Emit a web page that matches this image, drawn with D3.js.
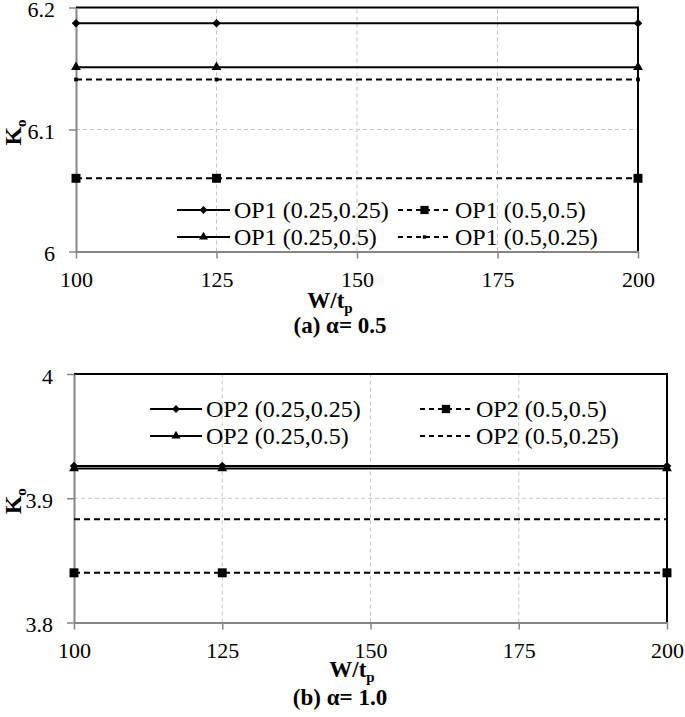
<!DOCTYPE html>
<html>
<head>
<meta charset="utf-8">
<script src="https://cdn.jsdelivr.net/npm/d3@7"></script>
<style>
  body { margin: 0; background: #fff; }
  svg { display: block; }
</style>
</head>
<body>
<div id="chart"></div>
<script>
// x values (W/tp) where points were computed
const xVals = [100, 125, 200];
const xTicks = [100, 125, 150, 175, 200];

// (a) alpha = 0.5
const yTicksA = [6, 6.1, 6.2];
const op1_025_025 = [6.187, 6.187, 6.187];
const op1_05_05 = [6.06, 6.06, 6.06];
const op1_025_05 = [6.151, 6.151, 6.151];
const op1_05_025 = [6.141, 6.141, 6.141];
const namesA = ['OP1 (0.25,0.25)', 'OP1 (0.5,0.5)', 'OP1 (0.25,0.5)', 'OP1 (0.5,0.25)'];

// (b) alpha = 1.0
const yTicksB = [3.8, 3.9, 4];
const op2_025_025 = [3.926, 3.926, 3.926];
const op2_05_05 = [3.84, 3.84, 3.84];
const op2_025_05 = [3.924, 3.924, 3.924];
const op2_05_025 = [3.883, 3.883, 3.883];
const namesB = ['OP2 (0.25,0.25)', 'OP2 (0.5,0.5)', 'OP2 (0.25,0.5)', 'OP2 (0.5,0.25)'];

const width = 685;
const height = 717;
const FONT = "'Liberation Serif', 'Times New Roman', serif";
const GREY = '#868686';

const svg = d3
  .select('#chart')
  .append('svg')
  .attr('width', width)
  .attr('height', height)
  .attr('viewBox', [0, 0, width, height]);

function marker(sel, type, scale) {
  const k = scale || 1;
  if (type === 'diamond') {
    sel.append('path')
      .attr('d', d3.symbol(d3.symbolSquare, 36 * k)())
      .attr('transform', 'rotate(45)')
      .attr('fill', '#000');
  } else if (type === 'triangle') {
    sel.append('path')
      .attr('d', d3.symbol(d3.symbolTriangle, 42 * k)())
      .attr('fill', '#000');
  } else if (type === 'square') {
    sel.append('path')
      .attr('d', d3.symbol(d3.symbolSquare, 80 * k)())
      .attr('fill', '#000');
  } else if (type === 'dot') {
    sel.append('path')
      .attr('d', d3.symbol(d3.symbolSquare, 14 * k)())
      .attr('fill', '#000');
  }
}

function drawPanel(p) {
  const g = svg.append('g');
  const x = d3.scaleLinear().domain([100, 200]).range(p.xRange);
  const y = d3.scaleLinear().domain([p.yTicks[0], p.yTicks[2]]).range(p.yRange);

  // grid
  g.selectAll('.vgrid')
    .data(xTicks.slice(1, -1))
    .enter()
    .append('line')
    .attr('x1', (d) => x(d))
    .attr('x2', (d) => x(d))
    .attr('y1', y.range()[0])
    .attr('y2', y.range()[1])
    .attr('stroke', '#c4c4c4')
    .attr('stroke-dasharray', '4,3');
  g.append('line')
    .attr('x1', x.range()[0])
    .attr('x2', x.range()[1])
    .attr('y1', y(p.yTicks[1]))
    .attr('y2', y(p.yTicks[1]))
    .attr('stroke', '#c4c4c4')
    .attr('stroke-dasharray', '4,3');

  // plot border top + right
  g.append('path')
    .attr('d', `M${x.range()[0]},${y.range()[1]}H${x.range()[1]}V${y.range()[0]}`)
    .attr('fill', 'none')
    .attr('stroke', '#000')
    .attr('stroke-width', 2);

  const xAxis = g.append('g')
    .attr('transform', `translate(0,${y.range()[0]})`)
    .call(d3.axisBottom(x).tickValues(xTicks).tickSize(7).tickSizeOuter(0).tickPadding(13).tickFormat(d3.format('d')));
  const yAxis = g.append('g')
    .attr('transform', `translate(${x.range()[0]},0)`)
    .call(d3.axisLeft(y).tickValues(p.yTicks).tickSize(7).tickSizeOuter(0).tickPadding(14).tickFormat(d3.format('~g')));
  yAxis.selectAll('.tick text').attr('dy', '0.42em');

  [xAxis, yAxis].forEach((a) => {
    a.attr('font-family', FONT).attr('font-size', 22);
    a.select('.domain').attr('stroke', GREY).attr('stroke-width', 2);
    a.selectAll('.tick line').attr('stroke', GREY).attr('stroke-width', 1.5);
    a.selectAll('.tick text').attr('fill', '#000');
  });

  // series
  const line = d3.line().x((d) => x(d[0])).y((d) => y(d[1]));
  p.series.forEach((s) => {
    const pts = xVals.map((v, i) => [v, s.values[i]]);
    g.append('path')
      .attr('d', line(pts))
      .attr('fill', 'none')
      .attr('stroke', '#000')
      .attr('stroke-width', 2)
      .attr('stroke-dasharray', s.dash ? '6,4' : null);
    if (s.marker !== 'none') {
      pts.forEach((pt) => {
        const m = g.append('g').attr('transform', `translate(${x(pt[0])},${y(pt[1])})`);
        marker(m, s.marker, 1);
      });
    }
  });

  // legend
  const leg = g.append('g').attr('font-family', FONT).attr('font-size', 24);
  p.series.forEach((s, i) => {
    const col = i % 2;
    const row = Math.floor(i / 2);
    const lx = p.legCols[col];
    const ly = p.legRows[row];
    leg.append('line')
      .attr('x1', lx)
      .attr('x2', lx + p.legLine)
      .attr('y1', ly)
      .attr('y2', ly)
      .attr('stroke', '#000')
      .attr('stroke-width', 2)
      .attr('stroke-dasharray', s.dash ? '5,4' : null);
    if (s.marker !== 'none') {
      const m = leg.append('g').attr('transform', `translate(${lx + p.legLine / 2},${ly})`);
      marker(m, s.marker, 0.85);
    }
    leg.append('text')
      .attr('x', lx + p.legLine + 4)
      .attr('y', ly)
      .attr('dy', '0.33em')
      .text(s.name);
  });

  // y title
  const yt = g.append('text')
    .attr('transform', `translate(21,${(y.range()[0] + y.range()[1]) / 2 + 3}) rotate(-90)`)
    .attr('text-anchor', 'middle')
    .attr('font-family', FONT)
    .attr('font-weight', 'bold')
    .attr('font-size', 24);
  yt.append('tspan').text('K');
  yt.append('tspan').attr('font-size', 15).attr('dy', '0.3em').text('o');

  // x title
  const xt = g.append('text')
    .attr('x', p.xTitleX)
    .attr('y', p.xTitleY)
    .attr('text-anchor', 'middle')
    .attr('font-family', FONT)
    .attr('font-weight', 'bold')
    .attr('font-size', 23);
  xt.append('tspan').text('W/t');
  xt.append('tspan').attr('font-size', 15).attr('dy', '0.3em').text('p');

  g.append('text')
    .attr('x', 340)
    .attr('y', p.captionY)
    .attr('text-anchor', 'middle')
    .attr('font-family', FONT)
    .attr('font-weight', 'bold')
    .attr('font-size', 23)
    .text(p.caption);
}

drawPanel({
  xRange: [76, 638],
  yRange: [251.5, 7.5],
  yTicks: yTicksA,
  series: [
    { name: namesA[0], values: op1_025_025, marker: 'diamond', dash: false },
    { name: namesA[1], values: op1_05_05, marker: 'square', dash: true },
    { name: namesA[2], values: op1_025_05, marker: 'triangle', dash: false },
    { name: namesA[3], values: op1_05_025, marker: 'dot', dash: true },
  ],
  legCols: [177, 398],
  legRows: [210, 237],
  legLine: 53,
  xTitleX: 330,
  xTitleY: 308,
  captionY: 333,
  caption: '(a) α= 0.5',
});

drawPanel({
  xRange: [74, 667],
  yRange: [622.5, 374],
  yTicks: yTicksB,
  series: [
    { name: namesB[0], values: op2_025_025, marker: 'diamond', dash: false },
    { name: namesB[1], values: op2_05_05, marker: 'square', dash: true },
    { name: namesB[2], values: op2_025_05, marker: 'triangle', dash: false },
    { name: namesB[3], values: op2_05_025, marker: 'none', dash: true },
  ],
  legCols: [150, 420],
  legRows: [409, 436],
  legLine: 52,
  xTitleX: 352,
  xTitleY: 677,
  captionY: 705,
  caption: '(b) α= 1.0',
});
</script>
</body>
</html>
